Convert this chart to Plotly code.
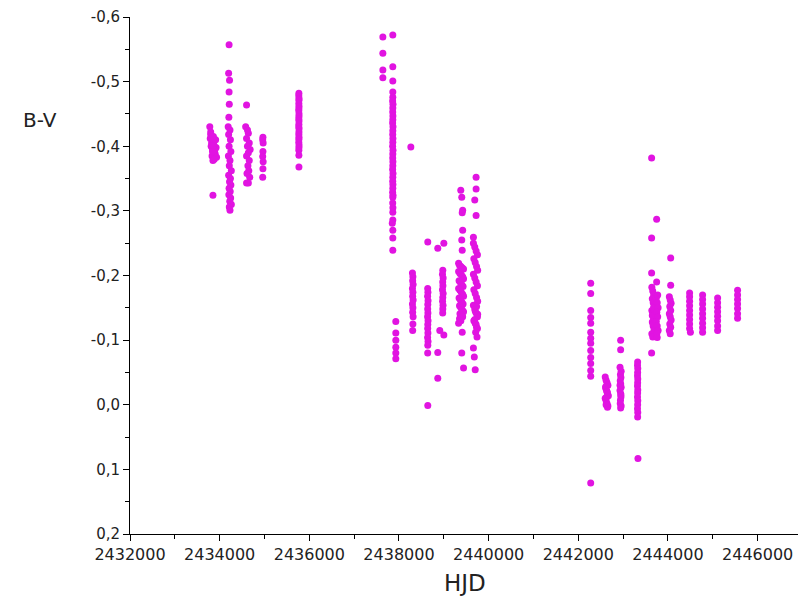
import plotly.graph_objects as go

# ---- data ----
hjd_a = [2433780, 2433800, 2433820, 2433840, 2433860, 2433880, 2433900, 2433920, 2433790, 2433810,
         2433830, 2433850, 2433870, 2433890, 2433910, 2433930, 2433800, 2433860, 2433880, 2433840, 2433850]
bv_a = [-0.430, -0.418, -0.405, -0.395, -0.400, -0.392, -0.388, -0.398, -0.412, -0.400,
        -0.385, -0.378, -0.402, -0.394, -0.410, -0.383, -0.422, -0.415, -0.380, -0.392, -0.324]

hjd_b = [2434210, 2434200, 2434220, 2434210, 2434215, 2434205, 2434190, 2434230, 2434200, 2434240,
         2434210, 2434250, 2434195, 2434230, 2434215, 2434260, 2434200, 2434240, 2434220, 2434250,
         2434210, 2434235, 2434205, 2434245, 2434225, 2434260, 2434215, 2434230]
bv_b = [-0.557, -0.513, -0.502, -0.484, -0.465, -0.445, -0.430, -0.425, -0.418, -0.410,
        -0.400, -0.392, -0.385, -0.378, -0.370, -0.362, -0.355, -0.350, -0.345, -0.340,
        -0.335, -0.330, -0.325, -0.320, -0.315, -0.310, -0.306, -0.301]

hjd_c = [2434600, 2434580, 2434620, 2434640, 2434600, 2434660, 2434620, 2434680, 2434640, 2434600,
         2434660, 2434630, 2434650, 2434610, 2434670, 2434600, 2434640]
bv_c = [-0.464, -0.430, -0.425, -0.420, -0.412, -0.405, -0.400, -0.395, -0.390, -0.385,
        -0.378, -0.370, -0.362, -0.358, -0.352, -0.343, -0.343]

hjd_d = [2434965, 2434960, 2434970, 2434965, 2434960, 2434970, 2434965, 2434960]
bv_d = [-0.414, -0.410, -0.405, -0.392, -0.384, -0.376, -0.365, -0.352]

hjd_e = [2435767, 2435765, 2435770, 2435768, 2435766, 2435769, 2435767, 2435765, 2435770, 2435768,
         2435766, 2435769, 2435767, 2435765, 2435770, 2435768, 2435766, 2435769, 2435767, 2435765,
         2435770, 2435768, 2435766, 2435767, 2435768]
bv_e = [-0.482, -0.478, -0.474, -0.471, -0.466, -0.462, -0.458, -0.455, -0.450, -0.446,
        -0.442, -0.439, -0.434, -0.430, -0.427, -0.422, -0.418, -0.414, -0.411, -0.406,
        -0.402, -0.398, -0.394, -0.386, -0.368]

hjd_f = [2437640, 2437640, 2437640, 2437640, 2437862, 2437862, 2437862, 2437862,
         2437862, 2437858, 2437866, 2437862, 2437860, 2437864, 2437862, 2437858, 2437866, 2437862,
         2437860, 2437864, 2437862, 2437858, 2437866, 2437862, 2437860, 2437864, 2437862, 2437858,
         2437866, 2437862, 2437860, 2437864, 2437862, 2437858, 2437866, 2437862, 2437860, 2437864,
         2437862, 2437862, 2437850, 2437862, 2437862, 2437862,
         2437929, 2437929, 2437929, 2437929, 2437929, 2437929, 2438264]
bv_f = [-0.569, -0.544, -0.518, -0.506, -0.572, -0.523, -0.501, -0.484,
        -0.476, -0.470, -0.465, -0.459, -0.453, -0.447, -0.441, -0.436, -0.430, -0.424,
        -0.418, -0.412, -0.406, -0.400, -0.394, -0.388, -0.382, -0.376, -0.370, -0.364,
        -0.358, -0.352, -0.346, -0.341, -0.335, -0.329, -0.324, -0.321, -0.312, -0.305,
        -0.298, -0.286, -0.281, -0.270, -0.258, -0.239,
        -0.129, -0.111, -0.100, -0.089, -0.080, -0.071, -0.399]

hjd_g = [2438300, 2438310, 2438305, 2438315, 2438300, 2438310, 2438305, 2438315, 2438300, 2438310,
         2438305, 2438315, 2438310, 2438305]
bv_g = [-0.204, -0.198, -0.192, -0.186, -0.180, -0.174, -0.168, -0.162, -0.156, -0.150,
        -0.143, -0.136, -0.125, -0.115]

hjd_h = [2438642, 2438640, 2438645, 2438638, 2438648, 2438642, 2438640, 2438645, 2438638, 2438648,
         2438642, 2438640, 2438645, 2438638, 2438648, 2438642, 2438640, 2438642,
         2438865, 2438865, 2438865, 2438910, 2439000, 2439000]
bv_h = [-0.252, -0.180, -0.174, -0.168, -0.161, -0.155, -0.148, -0.142, -0.136, -0.130,
        -0.124, -0.118, -0.111, -0.104, -0.098, -0.092, -0.080, 0.001,
        -0.242, -0.081, -0.041, -0.115, -0.250, -0.108]

hjd_i = [2438977, 2438970, 2438985, 2438975, 2438980, 2438970, 2438985, 2438977, 2438972, 2438982,
         2438977, 2438975]
bv_i = [-0.208, -0.202, -0.196, -0.190, -0.184, -0.178, -0.172, -0.166, -0.160, -0.154,
        -0.148, -0.142]

hjd_j = [2439378, 2439400, 2439420, 2439410, 2439420, 2439400, 2439410, 2439330, 2439350, 2439380,
         2439410, 2439440, 2439330, 2439360, 2439390, 2439420, 2439440, 2439340, 2439370, 2439400,
         2439430, 2439330, 2439360, 2439390, 2439420, 2439440, 2439340, 2439370, 2439400, 2439430,
         2439350, 2439380, 2439410, 2439440, 2439360, 2439390, 2439420, 2439350, 2439380, 2439410,
         2439330, 2439410, 2439400, 2439440]
bv_j = [-0.332, -0.321, -0.301, -0.297, -0.270, -0.255, -0.239, -0.219, -0.216, -0.214,
        -0.212, -0.210, -0.206, -0.203, -0.201, -0.198, -0.195, -0.192, -0.189, -0.186,
        -0.183, -0.180, -0.177, -0.174, -0.171, -0.168, -0.165, -0.162, -0.159, -0.156,
        -0.153, -0.150, -0.147, -0.144, -0.141, -0.139, -0.136, -0.133, -0.130, -0.137,
        -0.126, -0.112, -0.080, -0.057]

hjd_k = [2439720, 2439720, 2439690, 2439720, 2439660, 2439660, 2439690, 2439720, 2439750, 2439670,
         2439700, 2439730, 2439755, 2439660, 2439690, 2439720, 2439750, 2439670, 2439700, 2439730,
         2439755, 2439660, 2439690, 2439720, 2439750, 2439670, 2439700, 2439730, 2439755, 2439690,
         2439720, 2439750, 2439700, 2439730, 2439710, 2439740, 2439660, 2439680, 2439700]
bv_k = [-0.352, -0.334, -0.317, -0.293, -0.259, -0.250, -0.244, -0.238, -0.232, -0.226,
        -0.220, -0.214, -0.208, -0.202, -0.196, -0.190, -0.184, -0.178, -0.172, -0.166,
        -0.160, -0.154, -0.148, -0.142, -0.136, -0.130, -0.126, -0.120, -0.140, -0.132,
        -0.124, -0.118, -0.145, -0.152, -0.112, -0.105, -0.088, -0.074, -0.054]

hjd_l = [2442276, 2442276, 2442276, 2442276, 2442276, 2442276, 2442276, 2442276, 2442276, 2442276,
         2442276, 2442276, 2442276, 2442276]
bv_l = [-0.188, -0.172, -0.146, -0.135, -0.126, -0.112, -0.103, -0.095, -0.084, -0.073,
        -0.064, -0.053, -0.044, 0.121]

hjd_m = [2442600, 2442620, 2442640, 2442660, 2442610, 2442630, 2442650, 2442670, 2442600, 2442620,
         2442640, 2442660, 2442610, 2442630, 2442650, 2442620, 2442640]
bv_m = [-0.043, -0.038, -0.034, -0.030, -0.026, -0.022, -0.018, -0.014, -0.010, -0.006,
        -0.002, 0.002, -0.028, -0.012, 0.004, 0.000, -0.020]

hjd_n = [2442944, 2442944, 2442930, 2442955, 2442940, 2442950, 2442935, 2442945, 2442955, 2442930,
         2442945, 2442950, 2442940, 2442935, 2442955, 2442944, 2442930, 2442950]
bv_n = [-0.100, -0.085, -0.058, -0.052, -0.047, -0.042, -0.037, -0.032, -0.027, -0.022,
        -0.017, -0.012, -0.007, -0.002, 0.002, 0.005, -0.030, -0.015]

hjd_o = [2443323, 2443320, 2443326, 2443323, 2443320, 2443326, 2443323, 2443320, 2443326, 2443323,
         2443320, 2443326, 2443323, 2443320, 2443326, 2443323, 2443330]
bv_o = [-0.066, -0.061, -0.056, -0.050, -0.045, -0.040, -0.034, -0.029, -0.023, -0.018,
        -0.012, -0.006, 0.000, 0.006, 0.012, 0.019, 0.083]

hjd_p = [2443635, 2443747, 2443635, 2443635, 2443747, 2443640, 2443660, 2443680, 2443650, 2443670,
         2443690, 2443640, 2443660, 2443680, 2443650, 2443670, 2443690, 2443640, 2443660, 2443680,
         2443650, 2443670, 2443740, 2443760, 2443780, 2443750, 2443770, 2443740, 2443760, 2443780,
         2443750, 2443770, 2443760, 2443635, 2444060]
bv_p = [-0.382, -0.287, -0.258, -0.204, -0.190, -0.182, -0.176, -0.170, -0.164, -0.158,
        -0.152, -0.146, -0.140, -0.134, -0.128, -0.122, -0.116, -0.110, -0.105, -0.150,
        -0.138, -0.125, -0.165, -0.158, -0.150, -0.143, -0.136, -0.129, -0.122, -0.115,
        -0.110, -0.170, -0.104, -0.080, -0.227]

hjd_q = [2444060, 2444030, 2444050, 2444070, 2444040, 2444060, 2444030, 2444050, 2444070, 2444040,
         2444060, 2444030, 2444050]
bv_q = [-0.185, -0.167, -0.162, -0.157, -0.152, -0.146, -0.141, -0.136, -0.131, -0.125,
        -0.120, -0.115, -0.110]

hjd_r = [2444482, 2444482, 2444482, 2444482, 2444482, 2444482, 2444482, 2444482, 2444482, 2444500]
bv_r = [-0.173, -0.167, -0.160, -0.153, -0.146, -0.139, -0.132, -0.125, -0.118, -0.112]

hjd_s = [2444772, 2444772, 2444772, 2444772, 2444772, 2444772, 2444772, 2444772, 2444772]
bv_s = [-0.170, -0.163, -0.156, -0.148, -0.141, -0.134, -0.126, -0.119, -0.112]

hjd_t = [2445107, 2445107, 2445107, 2445107, 2445107, 2445107, 2445107, 2445107]
bv_t = [-0.165, -0.158, -0.151, -0.144, -0.137, -0.130, -0.122, -0.115]

hjd_u = [2445552, 2445552, 2445552, 2445552, 2445552, 2445552, 2445552]
bv_u = [-0.177, -0.170, -0.163, -0.156, -0.149, -0.141, -0.134]

x_tickvals = [2432000, 2434000, 2436000, 2438000, 2440000, 2442000, 2444000, 2446000]
x_ticktext = ["2432000", "2434000", "2436000", "2438000", "2440000", "2442000", "2444000", "2446000"]
y_tickvals = [-0.6, -0.5, -0.4, -0.3, -0.2, -0.1, 0.0, 0.1, 0.2]
y_ticktext = ["-0,6", "-0,5", "-0,4", "-0,3", "-0,2", "-0,1", "0,0", "0,1", "0,2"]

hjd_groups = [hjd_a, hjd_b, hjd_c, hjd_d, hjd_e, hjd_f, hjd_g, hjd_h, hjd_i, hjd_j, hjd_k,
              hjd_l, hjd_m, hjd_n, hjd_o, hjd_p, hjd_q, hjd_r, hjd_s, hjd_t, hjd_u]
bv_groups = [bv_a, bv_b, bv_c, bv_d, bv_e, bv_f, bv_g, bv_h, bv_i, bv_j, bv_k,
             bv_l, bv_m, bv_n, bv_o, bv_p, bv_q, bv_r, bv_s, bv_t, bv_u]

hjd = [v for g in hjd_groups for v in g]
bv = [v for g in bv_groups for v in g]

fig = go.Figure()
fig.add_trace(go.Scatter(
    x=hjd, y=bv, mode="markers",
    marker=dict(size=7, color="rgb(225,20,225)", line=dict(width=0)),
    showlegend=False, hoverinfo="skip"))

fig.update_layout(
    width=798, height=609,
    margin=dict(l=130, r=0, t=17, b=75),
    paper_bgcolor="white", plot_bgcolor="white",
    xaxis=dict(
        range=[2432000, 2446900],
        tickmode="array", tickvals=x_tickvals, ticktext=x_ticktext,
        ticks="outside", ticklen=6, tickwidth=1, tickcolor="black",
        minor=dict(tickmode="linear", tick0=2433000, dtick=2000, ticks="outside",
                   ticklen=4, tickwidth=1, tickcolor="black"),
        showline=True, linecolor="black", linewidth=1, mirror=False,
        showgrid=False, zeroline=False,
        tickfont=dict(family="DejaVu Sans", size=16, color="#222222"),
    ),
    yaxis=dict(
        range=[0.2, -0.6],
        tickmode="array", tickvals=y_tickvals, ticktext=y_ticktext,
        ticks="outside", ticklen=6, tickwidth=1, tickcolor="black",
        minor=dict(tickmode="linear", tick0=-0.55, dtick=0.1, ticks="outside",
                   ticklen=4, tickwidth=1, tickcolor="black"),
        showline=True, linecolor="black", linewidth=1, mirror=False,
        showgrid=False, zeroline=False,
        tickfont=dict(family="DejaVu Sans", size=15, color="#222222"),
    ),
    annotations=[
        dict(text="B-V", xref="paper", yref="paper", x=-0.135, y=0.80,
             xanchor="center", yanchor="middle", showarrow=False,
             font=dict(family="DejaVu Sans", size=20, color="#222222")),
        dict(text="HJD", xref="paper", yref="paper", x=0.501, y=-0.095,
             xanchor="center", yanchor="middle", showarrow=False,
             font=dict(family="DejaVu Sans", size=23, color="#222222")),
    ],
)

fig.write_html("out.html")
